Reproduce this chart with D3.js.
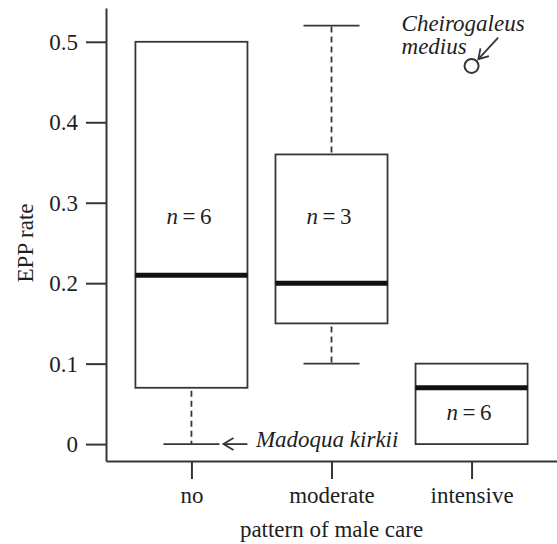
<!DOCTYPE html>
<html>
<head>
<meta charset="utf-8">
<script src="https://cdn.jsdelivr.net/npm/d3@7"></script>
<style>
  html, body { margin: 0; padding: 0; background: #fff; }
  svg { display: block; }
</style>
</head>
<body>
<svg id="chart" width="557" height="544"></svg>
<script>
// ---- data ----
const categories = ["no", "moderate", "intensive"];
const q1 = [0.07, 0.15, 0.0];
const medians = [0.21, 0.20, 0.07];
const q3 = [0.50, 0.36, 0.10];
const whiskerLow = [0.0, 0.10, 0.0];
const whiskerHigh = [0.50, 0.52, 0.10];
const nCounts = [6, 3, 6];
const nLabelValue = [0.2736, 0.2736, 0.030];
const outlierCats = ["intensive"];
const outlierValues = [0.47];
const yTicks = [0, 0.1, 0.2, 0.3, 0.4, 0.5];
const yTickLabels = ["0", "0.1", "0.2", "0.3", "0.4", "0.5"];
const yDomain = [-0.021, 0.542];
const xTitle = "pattern of male care";
const yTitle = "EPP rate";
const noteTop = ["Cheirogaleus", "medius"];
const noteBottom = "Madoqua kirkii";

(function () {
const FONT = '"Liberation Serif", "Times New Roman", Times, serif';
const svg = d3.select("#chart");
const fontSize = 23;
const axisColor = "#363636";
const textColor = "#1e1e1e";
const mLeft = 106, mRight = 557, mTop = 8, mBottom = 461;

const y = d3.scaleLinear().domain(yDomain).range([mBottom, mTop]);
const x = d3.scalePoint().domain(categories).range([mLeft, mRight]).padding(0.61);
const step = x.step();
const boxW = step * 0.8;
const capW = step * 0.4;

function styleText(sel, italic) {
  sel.style("font-family", FONT).style("font-size", fontSize + "px")
    .style("font-style", italic ? "italic" : "normal").style("fill", textColor);
  return sel;
}

// Y axis
const yAxis = d3.axisLeft(y).tickValues(yTicks)
  .tickFormat((d, i) => yTickLabels[i]).tickSize(20).tickSizeOuter(0).tickPadding(8);
const gy = svg.append("g").attr("transform", `translate(${mLeft},0)`).call(yAxis);
gy.attr("font-family", null).attr("font-size", null);
gy.selectAll("path, line").attr("stroke", axisColor).attr("stroke-width", 2);
styleText(gy.selectAll("text"), false);

// X axis
const xAxis = d3.axisBottom(x).tickSize(18).tickSizeOuter(0).tickPadding(8);
const gx = svg.append("g").attr("transform", `translate(0,${mBottom})`).call(xAxis);
gx.attr("font-family", null).attr("font-size", null);
gx.selectAll("path, line").attr("stroke", axisColor).attr("stroke-width", 2);
styleText(gx.selectAll("text"), false);

// axis titles
styleText(svg.append("text").attr("x", x("moderate")).attr("y", 537)
  .attr("text-anchor", "middle").text(xTitle), false);
styleText(svg.append("text").attr("transform", `translate(33,${(y(0) + y(0.5)) / 2}) rotate(-90)`)
  .attr("text-anchor", "middle").text(yTitle), false);

// boxes
const plot = svg.append("g");
categories.forEach((c, i) => {
  const cx = x(c);
  const g = plot.append("g");
  if (whiskerHigh[i] > q3[i]) {
    g.append("line").attr("x1", cx).attr("x2", cx)
      .attr("y1", y(q3[i]) - 2).attr("y2", y(whiskerHigh[i]))
      .attr("stroke", axisColor).attr("stroke-width", 1.8).attr("stroke-dasharray", "6,4");
    g.append("line").attr("x1", cx - capW / 2).attr("x2", cx + capW / 2)
      .attr("y1", y(whiskerHigh[i])).attr("y2", y(whiskerHigh[i]))
      .attr("stroke", axisColor).attr("stroke-width", 1.8);
  }
  if (whiskerLow[i] < q1[i]) {
    g.append("line").attr("x1", cx).attr("x2", cx)
      .attr("y1", y(q1[i]) + 3).attr("y2", y(whiskerLow[i]))
      .attr("stroke", axisColor).attr("stroke-width", 1.8).attr("stroke-dasharray", "6,4");
    g.append("line").attr("x1", cx - capW / 2).attr("x2", cx + capW / 2)
      .attr("y1", y(whiskerLow[i])).attr("y2", y(whiskerLow[i]))
      .attr("stroke", axisColor).attr("stroke-width", 1.8);
  }
  g.append("rect").attr("x", cx - boxW / 2).attr("y", y(q3[i]))
    .attr("width", boxW).attr("height", y(q1[i]) - y(q3[i]))
    .attr("fill", "none").attr("stroke", axisColor).attr("stroke-width", 1.8);
  g.append("line").attr("x1", cx - boxW / 2).attr("x2", cx + boxW / 2)
    .attr("y1", y(medians[i])).attr("y2", y(medians[i]))
    .attr("stroke", "#111").attr("stroke-width", 5);
  const t = styleText(g.append("text").attr("x", cx - 2.5).attr("y", y(nLabelValue[i]))
    .attr("text-anchor", "middle"), false);
  t.append("tspan").style("font-style", "italic").text("n");
  t.append("tspan").attr("dx", 4.5).text("=");
  t.append("tspan").attr("dx", 4.5).text(String(nCounts[i]));
});

// outliers + annotation
outlierCats.forEach((c, i) => {
  const ox = x(c), oy = y(outlierValues[i]);
  plot.append("circle").attr("cx", ox).attr("cy", oy).attr("r", 7)
    .attr("fill", "none").attr("stroke", axisColor).attr("stroke-width", 2);
  const ax1 = ox + 26.6, ay1 = oy - 28.4, ax2 = ox + 6.8, ay2 = oy - 6.8;
  plot.append("line").attr("x1", ax1).attr("y1", ay1).attr("x2", ax2).attr("y2", ay2)
    .attr("stroke", axisColor).attr("stroke-width", 1.8);
  const ang = Math.atan2(ay1 - ay2, ax1 - ax2);
  const hl = 11, spread = 0.55;
  plot.append("path")
    .attr("d", `M${ax2 + hl * Math.cos(ang - spread)},${ay2 + hl * Math.sin(ang - spread)} L${ax2},${ay2} L${ax2 + hl * Math.cos(ang + spread)},${ay2 + hl * Math.sin(ang + spread)}`)
    .attr("fill", "none").attr("stroke", axisColor).attr("stroke-width", 1.8);
  const tx = ox - 70;
  styleText(plot.append("text").attr("x", tx).attr("y", oy - 35).text(noteTop[0]), true);
  styleText(plot.append("text").attr("x", tx).attr("y", oy - 12).text(noteTop[1]), true);
});

// Madoqua kirkii annotation (at lower whisker of "no")
{
  const cx = x("no"), cy = y(whiskerLow[0]);
  const tipX = cx + 32, tailX = cx + 56;
  plot.append("line").attr("x1", tipX).attr("x2", tailX).attr("y1", cy).attr("y2", cy)
    .attr("stroke", axisColor).attr("stroke-width", 1.8);
  plot.append("path")
    .attr("d", `M${tipX + 10},${cy - 6} L${tipX},${cy} L${tipX + 10},${cy + 6}`)
    .attr("fill", "none").attr("stroke", axisColor).attr("stroke-width", 1.8);
  styleText(plot.append("text").attr("x", tailX + 8.5).attr("y", cy + 3).text(noteBottom), true);
}
})();
</script>
</body>
</html>
